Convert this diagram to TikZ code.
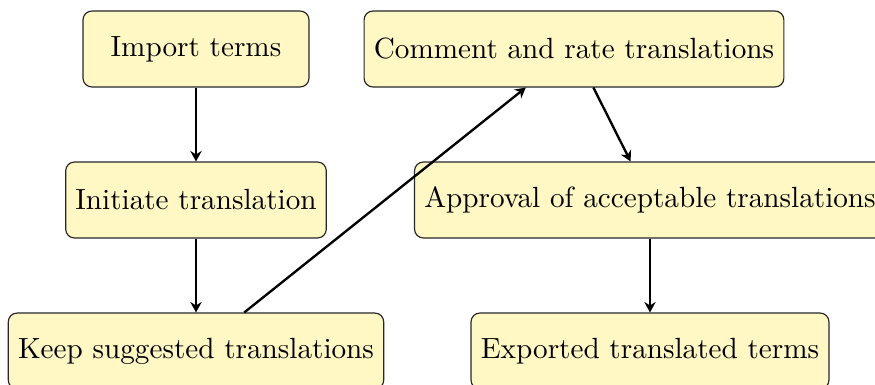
\documentclass[tikz,border=0pt]{standalone}
\usetikzlibrary{arrows.meta}
\definecolor{boxfill}{RGB}{255,248,196}
\begin{document}
\begin{tikzpicture}[
  x=0.3425pt, y=-0.3425pt,
  stepbox/.style={draw=black!85, fill=boxfill, rounded corners=3pt,
    minimum height=26pt, minimum width=77.4pt, inner sep=3.33pt},
  flow/.style={thick, -{Stealth[length=3.6pt,width=3.9pt,inset=1.2pt]}}
]
  \useasboundingbox (0,0) rectangle (875,385);
  % left column
  \node[stepbox] (imp)  at (196,49)  {Import terms};
  \node[stepbox] (init) at (196,200) {Initiate translation};
  \node[stepbox] (keep) at (196,351) {Keep suggested translations};
  % right column
  \node[stepbox] (com)  at (574,49)  {Comment and rate translations};
  \node[stepbox] (appr) at (650,200) {Approval of acceptable translations};
  \node[stepbox] (exp)  at (650,351) {Exported translated terms};
  % workflow
  \draw[flow] (imp) -- (init);
  \draw[flow] (init) -- (keep);
  \draw[flow] (keep) -- (com);
  \draw[flow] (com) -- (appr);
  \draw[flow] (appr) -- (exp);
\end{tikzpicture}
\end{document}
